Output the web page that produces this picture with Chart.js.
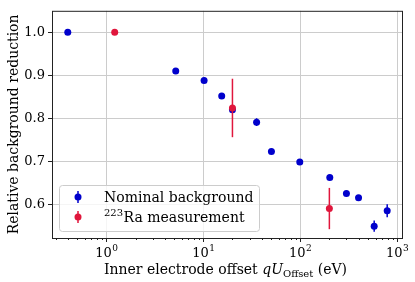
<!DOCTYPE html>
<html>
<head>
<meta charset="utf-8">
<script src="https://cdn.jsdelivr.net/npm/chart.js@4"></script>
<style>
  html, body { margin: 0; padding: 0; background: #fff; }
  #wrap { width: 415px; height: 282px; }
</style>
</head>
<body>
<div id="wrap"><canvas id="chart" width="415" height="282"></canvas></div>
<script>
const nominalX = [0.4, 5.2, 10.2, 15.5, 20, 35.5, 50.5, 99, 202, 300, 400, 580, 790];
const nominalY = [1.0, 0.91, 0.888, 0.852, 0.82, 0.791, 0.723, 0.698, 0.662, 0.625, 0.615, 0.549, 0.585];
const nominalErr = [0.002, 0.003, 0.003, 0.003, 0.004, 0.009, 0.003, 0.003, 0.003, 0.004, 0.004, 0.013, 0.015];

const raX = [1.22, 20, 200];
const raY = [1.0, 0.824, 0.59];
const raErr = [0.002, 0.068, 0.048];

const yTicks = [0.6, 0.7, 0.8, 0.9, 1.0];
const xMajors = [1, 10, 100, 1000];
const xExponents = ["0", "1", "2", "3"];

const BLUE = "#0000cc";
const RED = "#e0163c";
const FONT = "'DejaVu Serif', serif";

const toPoints = (xs, ys) => xs.map((x, i) => ({ x, y: ys[i] }));
const isMajor = v => Math.abs(Math.log10(v) - Math.round(Math.log10(v))) < 1e-6;

// vertical error bars, drawn just before each dataset's points
const errorBars = {
  id: "errorBars",
  beforeDatasetDraw(chart, args) {
    const ds = chart.data.datasets[args.index];
    const xs = chart.scales.x, ys = chart.scales.y;
    const c = chart.ctx;
    c.save();
    c.strokeStyle = ds.backgroundColor;
    c.lineWidth = 1.5;
    ds.data.forEach((p, i) => {
      const px = xs.getPixelForValue(p.x);
      c.beginPath();
      c.moveTo(px, ys.getPixelForValue(p.y - ds.errors[i]));
      c.lineTo(px, ys.getPixelForValue(p.y + ds.errors[i]));
      c.stroke();
    });
    c.restore();
  }
};

const decorations = {
  id: "decorations",
  afterDraw(chart) {
    const c = chart.ctx;
    const a = chart.chartArea;
    const xs = chart.scales.x;
    c.save();

    // frame
    c.strokeStyle = "#222";
    c.lineWidth = 1;
    c.strokeRect(a.left + 0.5, a.top + 0.5, a.right - a.left - 1, a.bottom - a.top);

    // x ticks, major and minor
    c.beginPath();
    for (let e = -1; e <= 3; e++) {
      for (let k = 1; k <= 9; k++) {
        const v = k * Math.pow(10, e);
        const px = Math.round(xs.getPixelForValue(v)) + 0.5;
        if (px < a.left || px > a.right) continue;
        const len = k === 1 ? 4 : 2;
        c.moveTo(px, a.bottom);
        c.lineTo(px, a.bottom + len);
      }
    }
    c.stroke();

    // x tick labels 10^n
    c.fillStyle = "#000";
    c.textBaseline = "alphabetic";
    xMajors.forEach((v, i) => {
      const px = xs.getPixelForValue(v);
      c.font = "13px " + FONT;
      const w1 = c.measureText("10").width;
      c.font = "9px " + FONT;
      const w2 = c.measureText(xExponents[i]).width;
      const x0 = px - (w1 + w2) / 2;
      c.font = "13px " + FONT;
      c.textAlign = "left";
      c.fillText("10", x0, a.bottom + 19);
      c.font = "9px " + FONT;
      c.fillText(xExponents[i], x0 + w1 + 0.5, a.bottom + 13);
    });

    // x axis title with italic qU and subscript
    const parts = [
      { t: "Inner electrode offset ", f: "14px " + FONT, dy: 0 },
      { t: "qU", f: "italic 14px " + FONT, dy: 0 },
      { t: "Offset", f: "10px " + FONT, dy: 3 },
      { t: " (eV)", f: "14px " + FONT, dy: 0 }
    ];
    let total = 0;
    parts.forEach(p => { c.font = p.f; p.w = c.measureText(p.t).width; total += p.w; });
    let cx = (a.left + a.right) / 2 - 2 - total / 2;
    parts.forEach(p => {
      c.font = p.f;
      c.fillText(p.t, cx, a.bottom + 36 + p.dy);
      cx += p.w;
    });

    // y axis title
    c.save();
    c.translate(18, (a.top + a.bottom) / 2);
    c.rotate(-Math.PI / 2);
    c.font = "14px " + FONT;
    c.textAlign = "center";
    c.fillText("Relative background reduction", 0, 0);
    c.restore();

    // legend
    const lx = a.left + 7, ly = a.bottom - 53, lw = 200, lh = 46;
    c.beginPath();
    c.roundRect(lx + 0.5, ly + 0.5, lw, lh, 3);
    c.fillStyle = "rgba(255,255,255,0.8)";
    c.fill();
    c.strokeStyle = "#cccccc";
    c.stroke();
    const entries = [
      { color: BLUE, y: ly + 12 },
      { color: RED, y: ly + 32 }
    ];
    entries.forEach(en => {
      c.strokeStyle = en.color;
      c.fillStyle = en.color;
      c.lineWidth = 1.5;
      c.beginPath();
      c.moveTo(lx + 19, en.y - 6);
      c.lineTo(lx + 19, en.y + 6);
      c.stroke();
      c.beginPath();
      c.arc(lx + 19, en.y, 3.5, 0, Math.PI * 2);
      c.fill();
    });
    c.fillStyle = "#000";
    c.textAlign = "left";
    c.font = "14px " + FONT;
    c.fillText("Nominal background", lx + 45, entries[0].y + 5);
    c.font = "10px " + FONT;
    const sup = "223";
    const sw = c.measureText(sup).width;
    c.fillText(sup, lx + 45, entries[1].y - 1);
    c.font = "14px " + FONT;
    c.fillText("Ra measurement", lx + 45 + sw + 0.5, entries[1].y + 5);

    c.restore();
  }
};

new Chart(document.getElementById("chart"), {
  type: "scatter",
  data: {
    datasets: [
      {
        label: "Nominal background",
        data: toPoints(nominalX, nominalY),
        errors: nominalErr,
        backgroundColor: BLUE,
        borderColor: BLUE,
        pointRadius: 3.5,
        pointBorderWidth: 0,
        order: 2
      },
      {
        label: "223Ra measurement",
        data: toPoints(raX, raY),
        errors: raErr,
        backgroundColor: RED,
        borderColor: RED,
        pointRadius: 3.5,
        pointBorderWidth: 0,
        order: 1
      }
    ]
  },
  options: {
    responsive: false,
    animation: false,
    devicePixelRatio: 1,
    layout: { padding: { top: 9, right: 12, left: 0, bottom: 0 } },
    plugins: {
      legend: { display: false },
      tooltip: { enabled: false }
    },
    scales: {
      x: {
        type: "logarithmic",
        min: 0.275,
        max: 1150,
        ticks: { display: false },
        grid: {
          drawTicks: false,
          color: ctx => (ctx.tick && isMajor(ctx.tick.value) ? "#cccccc" : "rgba(0,0,0,0)"),
          lineWidth: 1
        },
        border: { display: false },
        afterFit: s => { s.height = 44; }
      },
      y: {
        min: 0.5215,
        max: 1.05,
        afterBuildTicks: s => { s.ticks = yTicks.map(v => ({ value: v })); },
        ticks: {
          color: "#000",
          font: { family: "DejaVu Serif", size: 13 },
          padding: 3,
          callback: v => v.toFixed(1)
        },
        grid: {
          color: "#cccccc",
          lineWidth: 1,
          tickLength: 4,
          tickColor: "#222"
        },
        border: { display: false },
        afterFit: s => { s.width = 52; }
      }
    }
  },
  plugins: [errorBars, decorations]
});
</script>
</body>
</html>
